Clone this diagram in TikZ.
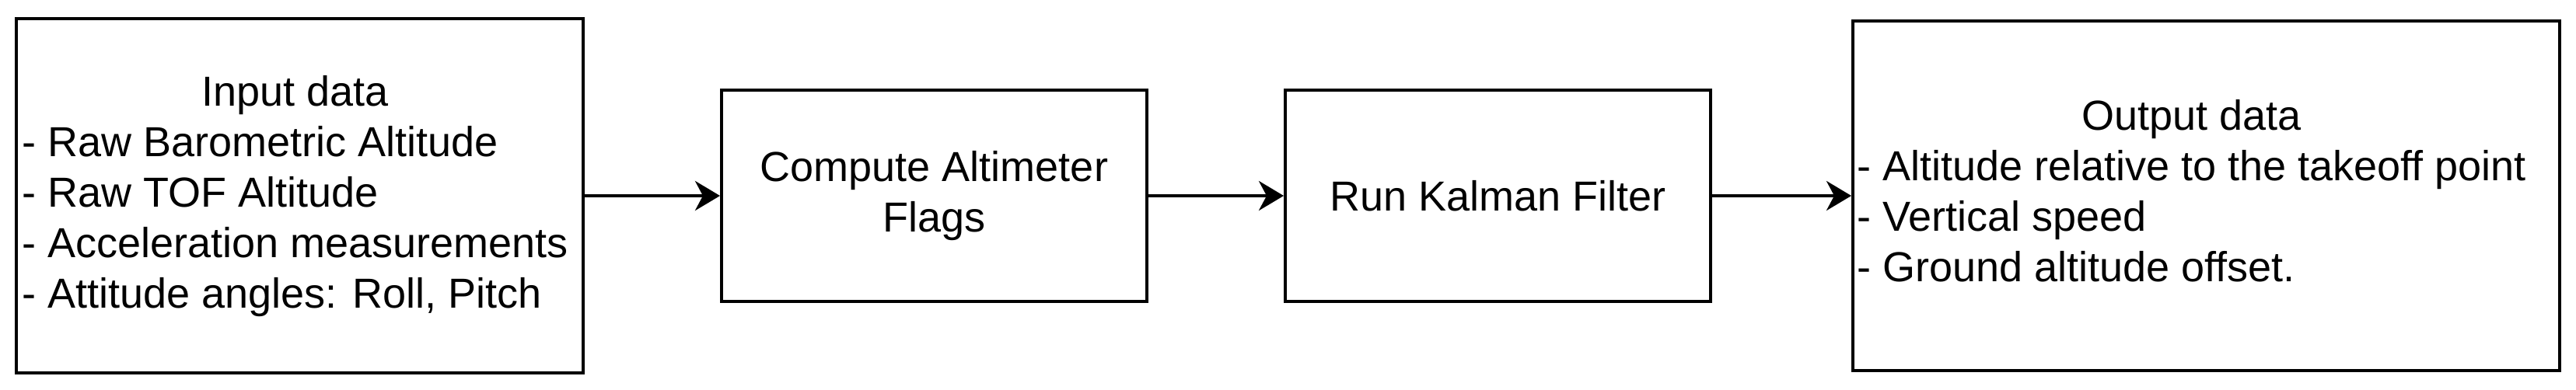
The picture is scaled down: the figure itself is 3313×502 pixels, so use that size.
\documentclass[tikz,border=0pt]{standalone}
\usepackage{fontspec}
\setmainfont{Liberation Sans}
\usetikzlibrary{arrows.meta}
\tikzset{
  blockbox/.style={draw=black, line width=4pt, fill=white, inner sep=0pt,
    font=\fontsize{54}{65}\selectfont, align=center},
  blocktext/.style={inner sep=0pt, font=\fontsize{54}{65}\selectfont, anchor=west},
  flowarrow/.style={line width=4pt, -{Stealth[length=32pt,width=38pt,inset=10pt]}}
}
\begin{document}
\begin{tikzpicture}[x=1pt,y=-1pt]
\useasboundingbox[fill=white] (0,0) rectangle (3313,502);
\def\arraystretch{1}
\node[blockbox, minimum width=729pt, minimum height=456pt] (inp) at (385.5,252) {};
\node[blocktext] (inptext) at ([xshift=9pt,yshift=-2pt]inp.west)
  {\begin{tabular}{@{}l@{}}\multicolumn{1}{c}{Input data}\\
   - Raw Barometric Altitude\\
   - Raw TOF Altitude\\
   - Acceleration measurements\\
   - Attitude angles: Roll, Pitch\end{tabular}};
\node[blockbox, minimum width=547pt, minimum height=271pt] (flags) at (1201.5,252)
  {Compute Altimeter\\Flags};
\node[blockbox, minimum width=547pt, minimum height=271pt] (kal) at (1926.5,252)
  {Run Kalman Filter};
\node[blockbox, minimum width=909pt, minimum height=450pt] (out) at (2837.5,252) {};
\node[blocktext] (outtext) at ([xshift=7pt]out.west)
  {\begin{tabular}{@{}l@{}}\multicolumn{1}{c}{Output data}\\
   - Altitude relative to the takeoff point\\
   - Vertical speed\\
   - Ground altitude offset.\end{tabular}};
\draw[flowarrow] (inp.east) -- (flags.west);
\draw[flowarrow] (flags.east) -- (kal.west);
\draw[flowarrow] (kal.east) -- (out.west);
\end{tikzpicture}
\end{document}
